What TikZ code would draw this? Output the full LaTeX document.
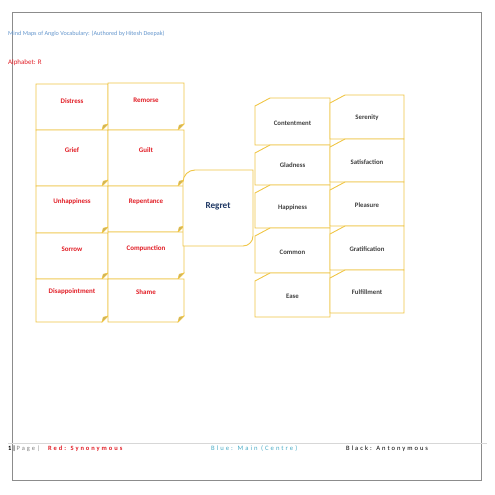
\documentclass[tikz,border=0pt]{standalone}
\usepackage{fontspec}
\setmainfont{Carlito}
\newfontfamily\spacedfont[LetterSpace=30]{Carlito}
\definecolor{gold}{RGB}{240,198,70}
\definecolor{foldc}{RGB}{200,178,100}
\definecolor{synred}{RGB}{226,30,38}
\definecolor{antgray}{RGB}{64,64,64}
\definecolor{mainblue}{RGB}{31,56,100}
\definecolor{titleblue}{RGB}{100,150,205}
\definecolor{footblue}{RGB}{75,172,198}
\definecolor{pageframe}{RGB}{140,140,140}
\definecolor{footline}{RGB}{215,215,215}
\tikzset{
  boxline/.style={draw=gold, line width=0.9bp, fill=white},
  foldfill/.style={fill=foldc, draw=gold, line width=0.5bp},
  holder/.style={draw=none, inner sep=0pt, outer sep=0pt},
  syntext/.style={text=synred, font=\fontsize{7}{8}\selectfont\bfseries, inner sep=0pt},
  anttext/.style={text=antgray, font=\fontsize{6.8}{8}\selectfont\bfseries, inner sep=0pt},
  maintext/.style={text=mainblue, font=\fontsize{9.2}{10}\selectfont\bfseries, inner sep=0pt},
}
% left box with folded bottom-right corner: name, x1, y1, x2, y2, text, text y
\newcommand\leftbox[7]{%
  \draw[boxline] (#2,#3) -- (#4,#3) -- (#4,#5-6) -- (#4-6,#5) -- (#2,#5) -- cycle;
  \draw[foldfill] (#4-6,#5) -- (#4-4.8,#5-4.8) -- (#4,#5-6) -- cycle;
  \node[holder, minimum width={(#4-#2)*1bp}, minimum height={(#5-#3)*1bp}] (#1) at ({(#2+#4)/2},{(#3+#5)/2}) {};
  \node[syntext] (#1-t) at ({(#2+#4)/2},#7) {#6};
}
% right box with snipped top-left corner
\newcommand\rightbox[7]{%
  \draw[boxline] (#2,#3+8) -- (#2+15,#3) -- (#4,#3) -- (#4,#5) -- (#2,#5) -- cycle;
  \node[holder, minimum width={(#4-#2)*1bp}, minimum height={(#5-#3)*1bp}] (#1) at ({(#2+#4)/2},{(#3+#5)/2}) {};
  \node[anttext] (#1-t) at ({(#2+#4)/2},#7) {#6};
}
\begin{document}
\begin{tikzpicture}[x=1bp,y=-1bp]
\useasboundingbox[fill=white] (0,0) rectangle (495,495);
% page frame
\draw[pageframe, line width=0.9bp] (12,12) rectangle (481,480);
% footer line
\draw[footline, line width=0.8bp] (8,443) -- (487,443);
% title texts
\node[anchor=west, inner sep=0pt, text=titleblue, font=\fontsize{6.2}{7}\selectfont] (title) at (8,34) {Mind Maps of Anglo Vocabulary: (Authored by Hitesh Deepak)};
\node[anchor=west, inner sep=0pt, text=synred, font=\fontsize{7}{8}\selectfont] (alpha) at (8,63) {Alphabet: R};
% left column 1
\leftbox{distress}{36}{84}{108}{130}{Distress}{101}
\leftbox{grief}{36}{130}{108}{186}{Grief}{150}
\leftbox{unhappiness}{36}{186}{108}{233}{Unhappiness}{202}
\leftbox{sorrow}{36}{233}{108}{279}{Sorrow}{249}
\leftbox{disappointment}{36}{279}{108}{322}{Disappointment}{292}
% left column 2
\leftbox{remorse}{108}{83}{184}{130}{Remorse}{100}
\leftbox{guilt}{108}{130}{184}{186}{Guilt}{150}
\leftbox{repentance}{108}{186}{184}{232}{Repentance}{202}
\leftbox{compunction}{108}{232}{184}{279}{Compunction}{249}
\leftbox{shame}{108}{279}{184}{322}{Shame}{292}
% centre
\draw[boxline] (183,182) arc[start angle=180, end angle=270, radius=12] -- (253,170) -- (253,236) arc[start angle=0, end angle=90, radius=10] -- (183,246) -- cycle;
\node[holder, minimum width=70bp, minimum height=76bp] (regret) at (218,208) {};
\node[maintext] (regret-t) at (218,206) {Regret};
% right column 1
\rightbox{contentment}{255}{98}{330}{145}{Contentment}{123}
\rightbox{gladness}{255}{145}{330}{185}{Gladness}{165}
\rightbox{happiness}{255}{185}{330}{228}{Happiness}{208}
\rightbox{common}{255}{228}{330}{273}{Common}{252}
\rightbox{ease}{255}{273}{330}{317}{Ease}{296}
% right column 2
\rightbox{serenity}{330}{95}{404}{139}{Serenity}{118}
\rightbox{satisfaction}{330}{139}{404}{182}{Satisfaction}{162}
\rightbox{pleasure}{330}{182}{404}{226}{Pleasure}{205}
\rightbox{gratification}{330}{226}{404}{270}{Gratification}{249}
\rightbox{fulfillment}{330}{270}{404}{313}{Fulfillment}{292}
% footer
\node[anchor=west, inner sep=0pt, font=\fontsize{6.5}{7}\selectfont] (pg) at (8,449) {\textbf{1}\,\textbf{|}\,{\spacedfont\color{gray}Page|}};
\node[anchor=west, inner sep=0pt, text=synred, font=\fontsize{6.5}{7}\selectfont\spacedfont\bfseries] (red) at (48,449) {Red: Synonymous};
\node[anchor=west, inner sep=0pt, text=footblue, font=\fontsize{6.7}{7}\selectfont\spacedfont] (blue) at (211,449) {Blue: Main (Centre)};
\node[anchor=west, inner sep=0pt, text=black, font=\fontsize{6.6}{7}\selectfont\spacedfont] (black) at (346,449) {Black: Antonymous};
\end{tikzpicture}
\end{document}
